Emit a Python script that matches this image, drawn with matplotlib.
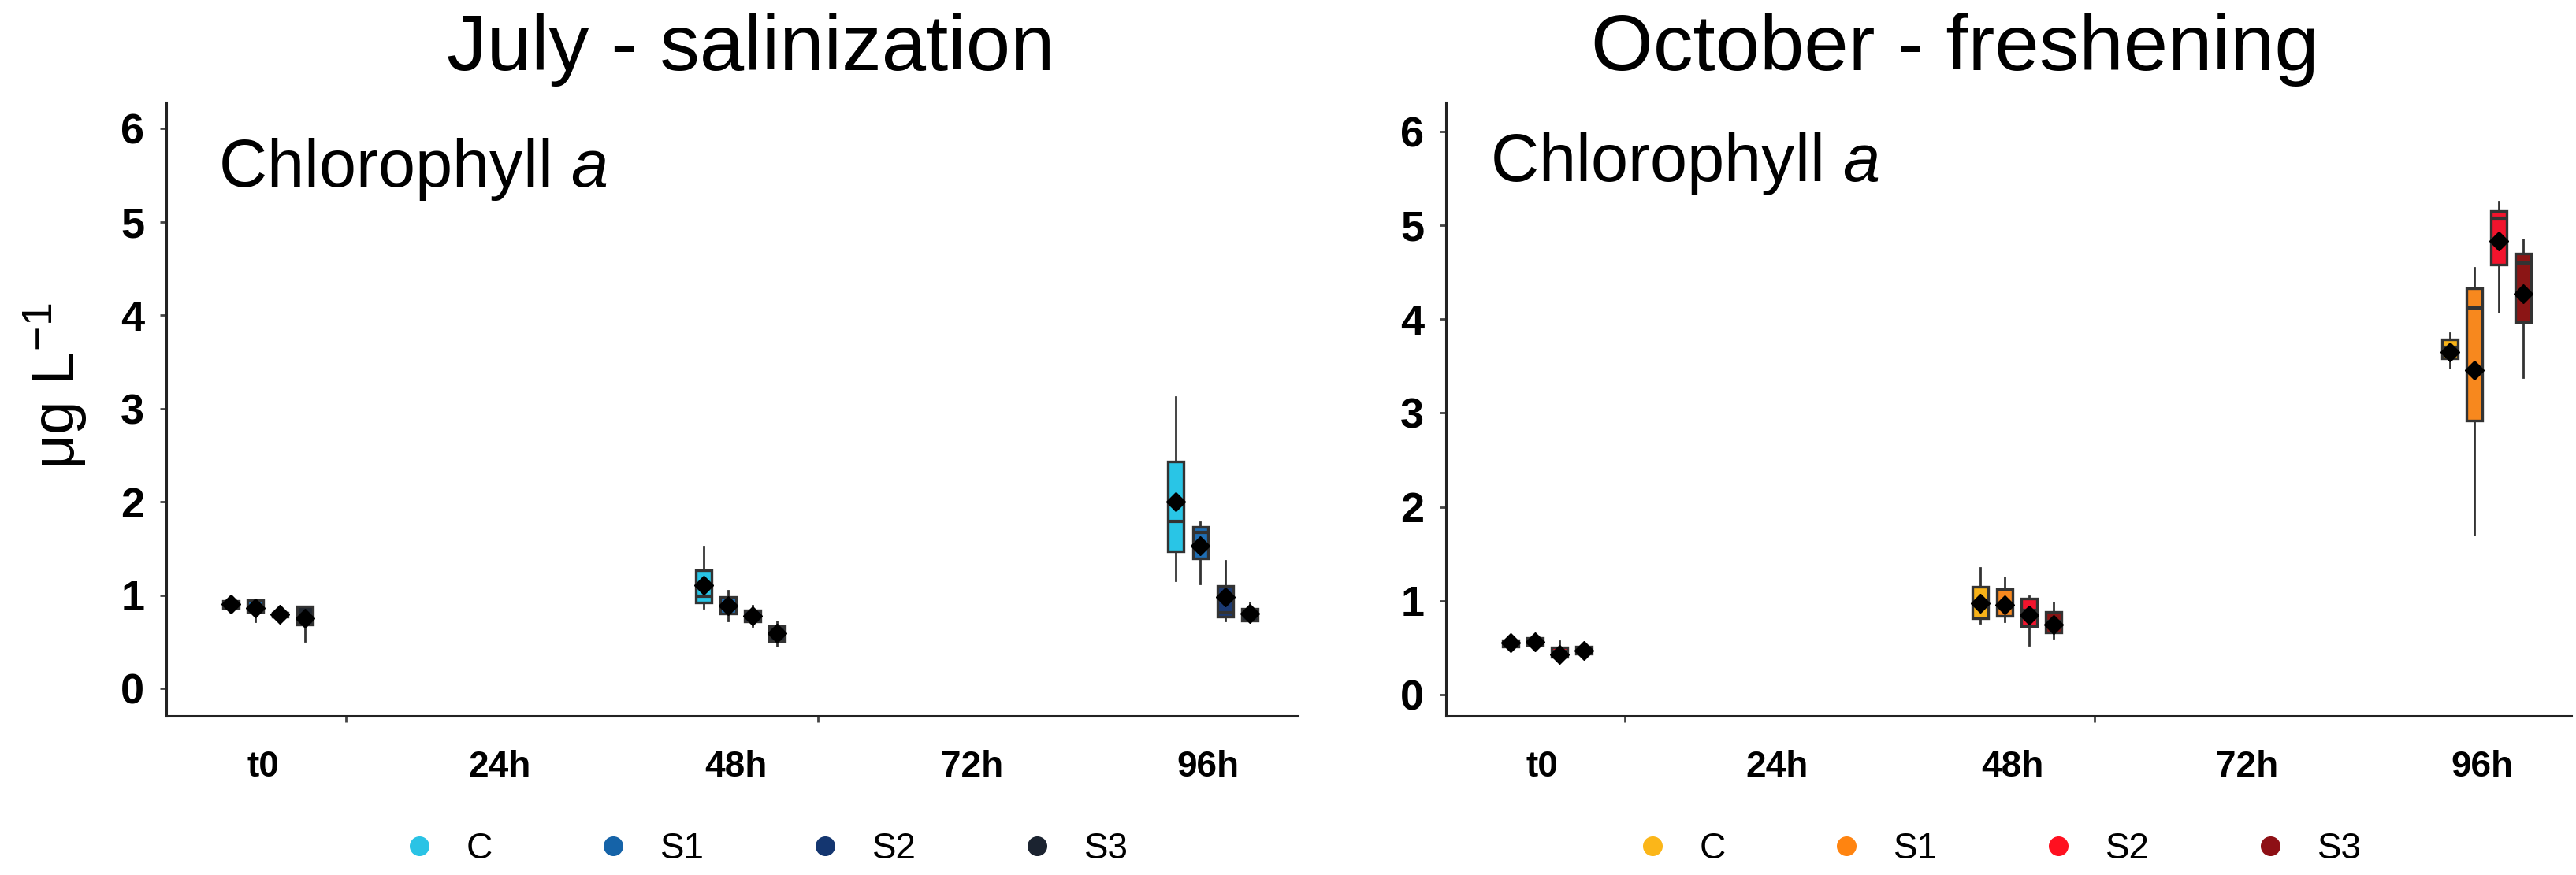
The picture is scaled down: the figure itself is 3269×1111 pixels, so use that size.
import matplotlib
matplotlib.use('Agg')
import matplotlib.pyplot as plt
from matplotlib.lines import Line2D

plt.rcParams['font.family'] = ['Liberation Sans', 'DejaVu Sans']
plt.rcParams['mathtext.fontset'] = 'custom'
plt.rcParams['mathtext.rm'] = 'Liberation Sans'
plt.rcParams['mathtext.it'] = 'Liberation Sans:italic'

# ---------------- data ----------------
time_labels = ['t0', '24h', '48h', '72h', '96h']
box_time_idx = [0, 2, 4]
treatments = ['C', 'S1', 'S2', 'S3']

# July - salinization  (rows: C, S1, S2, S3 ; columns: t0, 48h, 96h)
jul_whislo = [[0.86, 0.86, 1.16], [0.72, 0.73, 1.12], [0.77, 0.67, 0.73], [0.51, 0.46, 0.72]]
jul_q1     = [[0.86, 0.92, 1.47], [0.82, 0.80, 1.39], [0.77, 0.72, 0.77], [0.68, 0.51, 0.73]]
jul_med    = [[0.90, 0.99, 1.79], [0.88, 0.90, 1.67], [0.79, 0.79, 0.81], [0.78, 0.60, 0.80]]
jul_q3     = [[0.94, 1.27, 2.43], [0.945, 0.98, 1.73], [0.81, 0.84, 1.10], [0.88, 0.67, 0.85]]
jul_whishi = [[0.94, 1.52, 3.12], [0.945, 1.05, 1.78], [0.81, 0.89, 1.37], [0.88, 0.72, 0.92]]
jul_mean   = [[0.90, 1.11, 2.00], [0.86, 0.89, 1.53], [0.79, 0.78, 0.98], [0.75, 0.59, 0.80]]

# October - freshening
oct_whislo = [[0.51, 0.76, 3.48], [0.53, 0.78, 1.70], [0.38, 0.53, 4.08], [0.42, 0.60, 3.38]]
oct_q1     = [[0.51, 0.81, 3.58], [0.53, 0.84, 2.92], [0.40, 0.73, 4.58], [0.44, 0.66, 3.97]]
oct_med    = [[0.55, 0.95, 3.70], [0.56, 0.97, 4.12], [0.46, 0.90, 5.08], [0.48, 0.78, 4.60]]
oct_q3     = [[0.58, 1.15, 3.78], [0.60, 1.12, 4.33], [0.50, 1.02, 5.15], [0.51, 0.88, 4.70]]
oct_whishi = [[0.58, 1.35, 3.85], [0.60, 1.25, 4.55], [0.57, 1.05, 5.25], [0.55, 0.98, 4.85]]
oct_mean   = [[0.55, 0.97, 3.65], [0.56, 0.96, 3.46], [0.43, 0.85, 4.83], [0.47, 0.75, 4.27]]

jul_box_colors = ['#29C5E6', '#1F6EB4', '#1B3A73', '#20262F']
oct_box_colors = ['#F7B218', '#F7881E', '#F2142D', '#8B1515']
jul_leg_colors = ['#2AC3E5', '#1563A8', '#143670', '#1B2330']
oct_leg_colors = ['#FBB619', '#FF8410', '#FF1020', '#8E1015']

# ---------------- figure ----------------
W, H = 3269, 1111
fig = plt.figure(figsize=(W / 100, H / 100), dpi=100)

ax_l = fig.add_axes([211 / W, 1 - 909 / H, 1436 / W, (909 - 130) / H])
ax_r = fig.add_axes([1835 / W, 1 - 909 / H, 1428 / W, (909 - 130) / H])

edge = '#333333'
spacing = 0.104
bw = 0.066


def draw(ax, whislo, q1, med, q3, whishi, mean, colors, ylim):
    for k in range(len(treatments)):
        for j, ti in enumerate(box_time_idx):
            st = dict(whislo=whislo[k][j], q1=q1[k][j], med=med[k][j],
                      q3=q3[k][j], whishi=whishi[k][j], mean=mean[k][j], fliers=[])
            pos = ti + (k - 1.5) * spacing
            ax.bxp([st], positions=[pos], widths=bw, patch_artist=True,
                   showmeans=True, showcaps=False, showfliers=False,
                   boxprops=dict(facecolor=colors[k], edgecolor=edge, linewidth=2.4),
                   medianprops=dict(color=edge, linewidth=3.0),
                   whiskerprops=dict(color=edge, linewidth=2.0),
                   meanprops=dict(marker='D', markerfacecolor='black',
                                  markeredgecolor='black', markersize=12))
    ax.set_xlim(-0.43, 4.36)
    ax.set_ylim(*ylim)
    ax.set_yticks(range(0, 7))
    ax.set_yticklabels([str(v) for v in range(0, 7)], fontsize=39, fontweight='bold')
    ax.set_xticks([i - 0.02 for i in range(len(time_labels))])
    ax.set_xticklabels(time_labels, fontsize=33, fontweight='bold')
    ax.set_xticks([0.33, 2.33], minor=True)
    ax.tick_params(axis='x', which='major', length=0, pad=31)
    ax.tick_params(axis='x', which='minor', length=6, width=2, color='#444444')
    ax.tick_params(axis='y', length=6, width=2, color='#444444', pad=14)
    for s in ['top', 'right']:
        ax.spines[s].set_visible(False)
    for s in ['left', 'bottom']:
        ax.spines[s].set_linewidth(2.2)
        ax.spines[s].set_color('#222222')
    ax.set_facecolor('white')


draw(ax_l, jul_whislo, jul_q1, jul_med, jul_q3, jul_whishi, jul_mean,
     jul_box_colors, (-0.295, 6.28))
draw(ax_r, oct_whislo, oct_q1, oct_med, oct_q3, oct_whishi, oct_mean,
     oct_box_colors, (-0.227, 6.31))

# titles
fig.text(953 / W, 1 - 63 / H, 'July - salinization', fontsize=73, ha='center', va='center')
fig.text(2481 / W, 1 - 63 / H, 'October - freshening', fontsize=73, ha='center', va='center')

# panel annotation
fig.text(277 / W, 1 - 215 / H, 'Chlorophyll $\\mathit{a}$', fontsize=61, ha='left', va='center')
fig.text(1891 / W, 1 - 208 / H, 'Chlorophyll $\\mathit{a}$', fontsize=61, ha='left', va='center')

# y label
fig.text(70 / W, 1 - 490 / H, 'μg L$^{-1}$', fontsize=55, rotation=90, ha='center', va='center')

# legends
def legend(colors, x_anchor):
    handles = [Line2D([], [], marker='o', linestyle='none', markersize=17,
                      markerfacecolor=c, markeredgecolor=c) for c in colors]
    fig.legend(handles, treatments, loc='center left',
               bbox_to_anchor=(x_anchor, 1 - 1078 / H), ncol=4, frameon=False,
               fontsize=33, handlelength=1.0, handletextpad=0.8,
               columnspacing=2.85, borderpad=0, borderaxespad=0)


legend(jul_leg_colors, 509 / W)
legend(oct_leg_colors, 2074 / W)

fig.savefig('out.png', dpi=100, facecolor='white')
